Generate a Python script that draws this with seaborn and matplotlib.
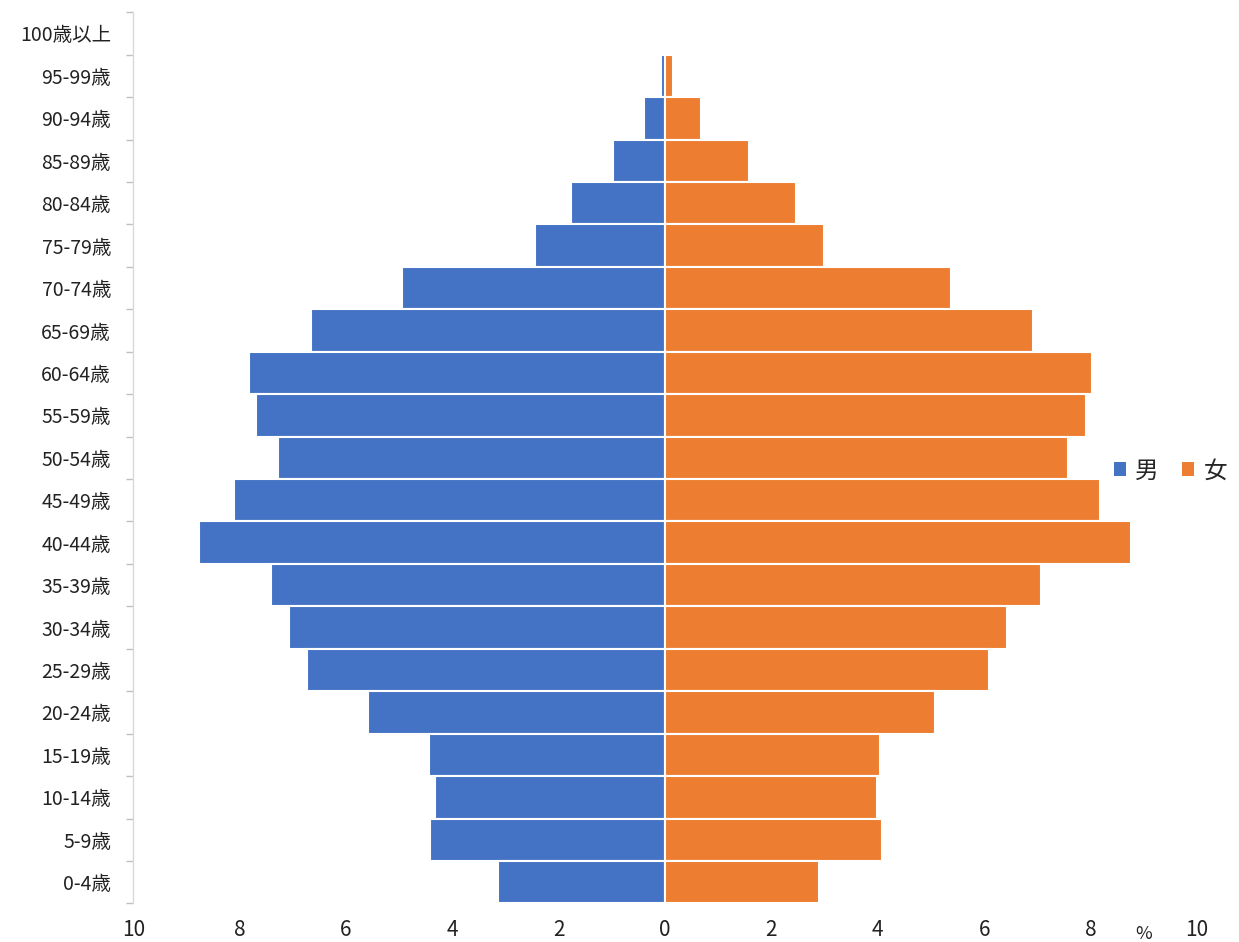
import matplotlib
matplotlib.use("Agg")
import matplotlib.pyplot as plt
import seaborn as sns
import numpy as np
import pandas as pd
from matplotlib.patches import Patch
from matplotlib.ticker import FixedLocator, FuncFormatter

ages = ["100歳以上", "95-99歳", "90-94歳", "85-89歳", "80-84歳", "75-79歳", "70-74歳",
        "65-69歳", "60-64歳", "55-59歳", "50-54歳", "45-49歳", "40-44歳", "35-39歳",
        "30-34歳", "25-29歳", "20-24歳", "15-19歳", "10-14歳", "5-9歳", "0-4歳"]
male = [0.0, 0.08, 0.40, 0.98, 1.76, 2.44, 4.95, 6.65, 7.82, 7.69, 7.27, 8.10, 8.77,
        7.41, 7.07, 6.73, 5.58, 4.44, 4.33, 4.41, 3.14]
female = [0.0, 0.15, 0.68, 1.58, 2.47, 2.98, 5.38, 6.91, 8.02, 7.91, 7.57, 8.17, 8.77,
          7.06, 6.43, 6.09, 5.08, 4.04, 3.98, 4.08, 2.89]
series_names = ["男", "女"]
xticks = [-10, -8, -6, -4, -2, 0, 2, 4, 6, 8, 10]

blue = "#4472C4"
orange = "#ED7D31"

sns.set_theme(style="white")
plt.rcParams['font.family'] = ['Noto Sans CJK JP', 'DejaVu Sans']

df = pd.DataFrame({"age": ages, "male": [-v for v in male], "female": female})

fig = plt.figure(figsize=(12.39, 9.42), dpi=100)
ax = fig.add_axes([0.1075, 0.041, 0.8585, 0.946])

sns.barplot(data=df, x="male", y="age", order=ages, color=blue, width=1.0,
            edgecolor="white", linewidth=1.5, orient="h", ax=ax, saturation=1)
sns.barplot(data=df, x="female", y="age", order=ages, color=orange, width=1.0,
            edgecolor="white", linewidth=1.5, orient="h", ax=ax, saturation=1)

ax.set_xlim(-10, 10)
ax.set_ylim(len(ages) - 0.5, -0.5)
ax.set_xlabel("")
ax.set_ylabel("")

ax.set_xticks(xticks)
ax.xaxis.set_major_formatter(FuncFormatter(lambda v, p: f"{abs(v):g}"))
ax.tick_params(axis="x", length=0, labelsize=15, pad=11, colors="#222222")

ax.yaxis.set_minor_locator(FixedLocator(np.arange(-0.5, len(ages), 1.0)))
ax.tick_params(axis="y", which="major", length=0, labelsize=14, pad=16, colors="#222222")
ax.tick_params(axis="y", which="minor", length=5, width=1, color="#BFBFBF", left=True)

for s in ["top", "right", "bottom"]:
    ax.spines[s].set_visible(False)
ax.spines["left"].set_color("#D9D9D9")
ax.spines["left"].set_linewidth(1)

ax.text(9.0, -0.034, "%", transform=ax.get_xaxis_transform(), ha="center", va="center",
        fontsize=13, color="#222222")

handles = [Patch(facecolor=blue, edgecolor="none"), Patch(facecolor=orange, edgecolor="none")]
fig.legend(handles, series_names, loc="center right", bbox_to_anchor=(1.0, 0.5),
           frameon=False, fontsize=17, handlelength=0.5, handleheight=0.5,
           handletextpad=0.4, columnspacing=1.0, ncol=2, borderaxespad=0.1)

fig.savefig("out.png", dpi=100)
